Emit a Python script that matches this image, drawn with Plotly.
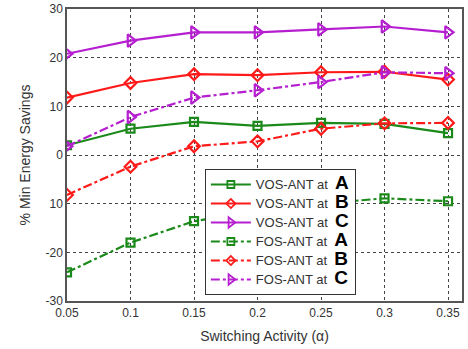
import plotly.graph_objects as go

x = [0.05, 0.1, 0.15, 0.2, 0.25, 0.3, 0.35]
vos_a = [2.0, 5.4, 6.8, 6.0, 6.6, 6.4, 4.5]
vos_b = [11.8, 14.8, 16.6, 16.4, 17.0, 17.1, 15.5]
vos_c = [20.8, 23.5, 25.2, 25.2, 25.8, 26.4, 25.2]
fos_a = [-24.1, -18.0, -13.6, -11.5, -10.0, -8.9, -9.5]
fos_b = [-8.2, -2.4, 1.8, 2.8, 5.4, 6.5, 6.6]
fos_c = [1.8, 7.8, 11.8, 13.3, 15.0, 17.0, 16.8]

y_tickvals = [30, 20, 10, 0, -10, -20, -30]
y_ticktext = ["30", "20", "10", "0", "10", "-20", "-30"]
x_tickvals = [0.05, 0.1, 0.15, 0.2, 0.25, 0.3, 0.35]
x_ticktext = ["0.05", "0.1", "0.15", "0.2", "0.25", "0.3", "0.35"]

GREEN = "#1b8a1b"
RED = "#ff1a1a"
PURPLE = "#b51fd0"

def lab(prefix, letter):
    return ("<span style='font-size:13px'>" + prefix + " at  </span>"
            "<b><span style='font-size:19px;color:#000'>" + letter + "</span></b>")

series = [
    (lab("VOS-ANT", "A"), vos_a, GREEN, "solid", "square-open", 8),
    (lab("VOS-ANT", "B"), vos_b, RED, "solid", "diamond-open", 9),
    (lab("VOS-ANT", "C"), vos_c, PURPLE, "solid", "triangle-right-open", 11),
    (lab("FOS-ANT", "A"), fos_a, GREEN, "dashdot", "square-open", 8),
    (lab("FOS-ANT", "B"), fos_b, RED, "dashdot", "diamond-open", 9),
    (lab("FOS-ANT", "C"), fos_c, PURPLE, "dashdot", "triangle-right-open", 11),
]

fig = go.Figure()
for name, ys, col, dash, sym, sz in series:
    fig.add_trace(go.Scatter(
        x=x, y=ys, name=name, mode="lines+markers", showlegend=False,
        line=dict(color=col, width=2.2, dash=dash),
        marker=dict(symbol=sym, size=sz, color=col, line=dict(color=col, width=2.2)),
    ))
# legend entries (smaller symbols, as in the reference legend)
for name, ys, col, dash, sym, sz in series:
    fig.add_trace(go.Scatter(
        x=[None], y=[None], name=name, mode="lines+markers", showlegend=True,
        line=dict(color=col, width=2.2, dash=dash),
        marker=dict(symbol=sym, size=7 if "triangle" not in sym else 9,
                    color=col, line=dict(color=col, width=1.8)),
    ))

fig.update_layout(
    width=468, height=349,
    margin=dict(l=67, r=6, t=9, b=48, autoexpand=False),
    paper_bgcolor="white", plot_bgcolor="white",
    font=dict(family="Liberation Sans, Arial, sans-serif", size=12, color="#333"),
    legend=dict(
        x=0.349, y=0.452, xanchor="left", yanchor="top",
        bgcolor="white", bordercolor="#333", borderwidth=1,
        font=dict(size=11, color="#333"),
        itemwidth=40, tracegroupgap=0,
    ),
    showlegend=True,
)
fig.update_xaxes(
    range=[0.05, 0.361], tickvals=x_tickvals, ticktext=x_ticktext,
    showgrid=True, gridcolor="#444", griddash="dot", gridwidth=1,
    showline=True, linecolor="#555", linewidth=1.5, mirror=True,
    ticks="", zeroline=False, automargin=False,
    title=dict(text="Switching Activity (α)", font=dict(size=14, color="#333"), standoff=12),
)
fig.update_yaxes(
    range=[-30, 30], tickvals=y_tickvals, ticktext=y_ticktext,
    showgrid=True, gridcolor="#444", griddash="dot", gridwidth=1,
    showline=True, linecolor="#555", linewidth=1.5, mirror=True,
    ticks="", zeroline=False, automargin=False,
    title=dict(text="% Min Energy Savings", font=dict(size=14, color="#333"), standoff=12),
)

fig.write_html("out.html", config={"displayModeBar": False},
               post_script="document.body.style.margin='0';")
